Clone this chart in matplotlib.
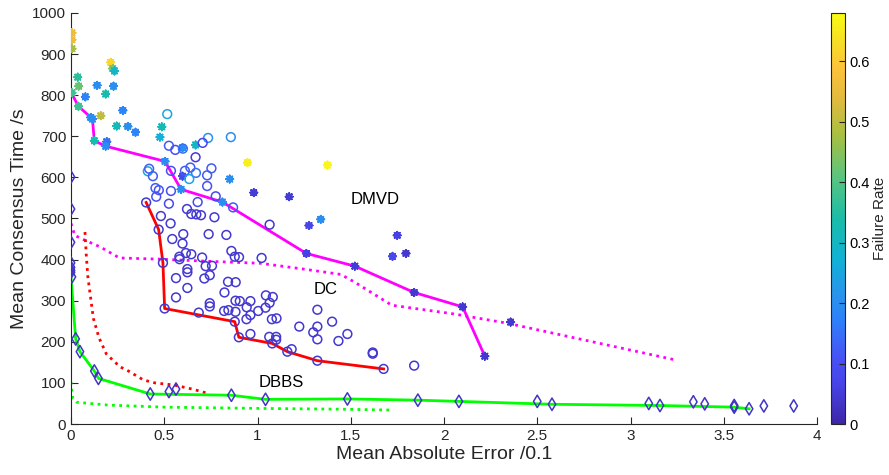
import numpy as np
import matplotlib
matplotlib.use("Agg")
import matplotlib.pyplot as plt
from matplotlib.colors import LinearSegmentedColormap, Normalize
from matplotlib.cm import ScalarMappable
from matplotlib.ticker import FormatStrFormatter

plt.rcParams['font.family'] = ['Liberation Sans', 'DejaVu Sans']

# ---- data ----
# DMVD (asterisks): x, y, failure rate
dmvd_x = [0.005, 0.005, 0.005, 0.213, 0.224, 0.233, 0.036, 0.041, 0.14, 0.228,
          0.005, 0.077, 0.186, 0.04, 0.278, 0.106, 0.115, 0.16, 0.245, 0.305,
          0.346, 0.487, 0.477, 0.125, 0.192, 0.186, 0.668, 0.598, 0.946, 1.375,
          0.504, 0.598, 0.851, 0.59, 0.98, 1.17, 0.812, 1.276, 1.339, 1.262,
          1.749, 1.724, 1.796, 1.522, 1.84, 2.1, 2.219, 2.357]
dmvd_y = [952, 935, 913, 880, 865, 859, 844, 822, 824, 822,
          806, 796, 803, 773, 763, 746, 742, 750, 725, 724,
          710, 723, 698, 689, 687, 676, 679, 672, 636, 630,
          639, 603, 596, 571, 563, 553, 540, 483, 498, 415,
          459, 408, 415, 384, 320, 285, 165, 248]
dmvd_f = [0.56, 0.56, 0.48, 0.62, 0.45, 0.3, 0.36, 0.42, 0.2, 0.2,
          0.38, 0.18, 0.33, 0.38, 0.18, 0.2, 0.2, 0.5, 0.32, 0.2,
          0.18, 0.32, 0.27, 0.33, 0.15, 0.2, 0.3, 0.2, 0.66, 0.67,
          0.2, 0.08, 0.2, 0.2, 0.05, 0.05, 0.2, 0.07, 0.2, 0.06,
          0.06, 0.08, 0.04, 0.05, 0.04, 0.04, 0.04, 0.04]

# DC (circles)
dc_x = [0.516, 0.735, 0.857, 0.525, 0.559, 0.6, 0.706, 0.668, 0.412, 0.419,
        0.439, 0.536, 0.611, 0.64, 0.67, 0.634, 0.753, 0.73, 0.453, 0.471,
        0.457, 0.536, 0.73, 0.525, 0.679, 0.776, 0.869, 0.482, 0.622, 0.645,
        0.672, 0.697, 0.769, 0.534, 1.065, 0.543, 0.602, 0.738, 0.833, 0.598,
        0.616, 0.645, 0.581, 0.703, 0.86, 0.878, 0.901, 1.022, 0.722, 0.756,
        0.624, 0.624, 0.563, 0.744, 0.715, 0.842, 0.883, 0.624, 0.823, 0.563,
        1.045, 1.082, 0.882, 0.905, 0.962, 1.065, 0.744, 0.744, 0.685, 0.942,
        0.821, 0.844, 0.882, 1.004, 1.043, 0.962, 0.941, 1.077, 1.102, 1.321,
        1.4, 1.224, 1.321, 1.299, 1.321, 1.434, 0.962, 1.063, 1.1, 1.1,
        1.183, 1.482, 1.618, 1.618, 1.84, 0.582,
        0.403, 0.47, 0.493, 0.502, 0.878, 0.9, 1.079, 1.16, 1.321, 1.676]
dc_y = [754, 696, 698, 677, 667, 670, 684, 649, 615, 621,
        603, 616, 616, 624, 611, 596, 622, 605, 574, 569,
        553, 567, 579, 536, 540, 554, 527, 506, 523, 511,
        510, 508, 503, 488, 485, 450, 462, 462, 460, 439,
        416, 413, 407, 405, 421, 407, 406, 404, 384, 385,
        377, 369, 355, 362, 354, 346, 345, 331, 320, 308,
        313, 309, 300, 299, 299, 295, 294, 286, 271, 284,
        275, 277, 273, 275, 283, 265, 255, 255, 257, 278,
        249, 237, 237, 223, 206, 202, 219, 212, 212, 205,
        182, 219, 174, 171, 142, 401,
        539, 473, 392, 281, 249, 211, 196, 176, 154, 134]
dc_f = [0.25, 0.2, 0.2, 0.12, 0.1, 0.15, 0.07, 0.05, 0.25, 0.12,
        0.12, 0.1, 0.12, 0.12, 0.15, 0.25, 0.12, 0.12, 0.12, 0.1,
        0.1, 0.1, 0.1, 0.08, 0.08, 0.08, 0.12] + [0.04] * 79

# DBBS (diamonds)
dbbs_x = [0.0, 0.0, 0.0, 0.0, 0.0, 0.0, 0.0, 0.005, 0.025, 0.048,
          0.125, 0.147, 0.425, 0.525, 0.563, 0.86, 1.043, 1.482, 1.86, 2.08,
          2.5, 2.579, 3.098, 3.158, 3.337, 3.398, 3.556, 3.556, 3.636, 3.715, 3.875]
dbbs_y = [601, 523, 442, 392, 381, 374, 369, 358, 207, 176,
          129, 111, 73, 79, 85, 70, 60, 61, 58, 55,
          55, 48, 50, 45, 54, 49, 45, 41, 37, 44, 44]
dbbs_f = [0.03] * 31

# Pareto fronts (solid) and reference curves (dotted)
dmvd_front_x = [0.005, 0.04, 0.106, 0.115, 0.125, 0.186, 0.504, 0.59, 0.812, 1.262, 1.522, 1.84, 2.1, 2.219]
dmvd_front_y = [803, 773, 746, 742, 689, 676, 639, 571, 540, 415, 384, 320, 285, 165]
dmvd_ref_x = [0.0, 0.02, 0.075, 0.156, 0.26, 0.48, 0.73, 1.016, 1.23, 1.446, 1.518, 1.72, 2.05, 2.342, 3.23]
dmvd_ref_y = [488, 459, 447, 431, 404, 401, 396, 391, 378, 364, 346, 289, 268, 245, 157]

dc_front_x = [0.403, 0.47, 0.493, 0.502, 0.878, 0.9, 1.079, 1.16, 1.321, 1.676]
dc_front_y = [539, 473, 392, 281, 249, 211, 196, 176, 154, 134]
dc_ref_x = [0.075, 0.082, 0.09, 0.102, 0.12, 0.15, 0.19, 0.263, 0.3, 0.389, 0.45, 0.55, 0.65, 0.73]
dc_ref_y = [467, 410, 360, 318, 257, 210, 170, 139, 131, 107, 100, 95, 85, 75]

dbbs_front_x = [0.0, 0.0, 0.025, 0.048, 0.125, 0.147, 0.425, 0.86, 1.043, 1.482, 1.86, 2.08, 2.579, 3.158, 3.556, 3.636]
dbbs_front_y = [369, 358, 207, 176, 129, 111, 73, 70, 60, 61, 58, 55, 48, 45, 41, 37]
dbbs_ref_x = [0.0, 0.003, 0.01, 0.03, 0.1, 0.2, 0.5, 1.0, 1.45, 1.71]
dbbs_ref_y = [103, 85, 62, 53, 50, 46, 41, 38, 36, 34]

# parula-like colormap
parula = LinearSegmentedColormap.from_list("parula", [
    (0.00, (0.2422, 0.1504, 0.6603)),
    (0.10, (0.2770, 0.2700, 0.9200)),
    (0.16, (0.2810, 0.3228, 0.9579)),
    (0.25, (0.1800, 0.5000, 0.9800)),
    (0.32, (0.1540, 0.5902, 0.9218)),
    (0.40, (0.0689, 0.6948, 0.8394)),
    (0.50, (0.1000, 0.7400, 0.6600)),
    (0.60, (0.3500, 0.7700, 0.5000)),
    (0.70, (0.6500, 0.7500, 0.2600)),
    (0.80, (0.9000, 0.7300, 0.2400)),
    (0.87, (0.9970, 0.7659, 0.2199)),
    (0.93, (0.9700, 0.8700, 0.1500)),
    (1.00, (0.9769, 0.9839, 0.0805)),
])
norm = Normalize(vmin=0, vmax=0.68)

fig = plt.figure(figsize=(8.89, 4.75), dpi=100)
ax = fig.add_axes([71/889, 51/475, 746/889, 411/475])
cax = fig.add_axes([831/889, 51/475, 14/889, 411/475])

dot = (0, (1, 1.6))
ax.plot(dmvd_front_x, dmvd_front_y, color='magenta', lw=2.0, zorder=2)
ax.plot(dmvd_ref_x, dmvd_ref_y, color='magenta', lw=2.0, ls=dot, zorder=2)
ax.plot(dc_front_x, dc_front_y, color='red', lw=2.0, zorder=2)
ax.plot(dc_ref_x, dc_ref_y, color='red', lw=2.0, ls=dot, zorder=2)
ax.plot(dbbs_front_x, dbbs_front_y, color=(0, 1, 0), lw=2.0, zorder=2)
ax.plot(dbbs_ref_x, dbbs_ref_y, color=(0, 1, 0), lw=2.0, ls=dot, zorder=2)

ax.scatter(dmvd_x, dmvd_y, s=26, marker=(8, 2, 0), c=dmvd_f, cmap=parula, norm=norm,
           linewidths=1.4, zorder=3)
ax.scatter(dc_x, dc_y, s=40, marker='o', facecolors='none',
           edgecolors=parula(norm(dc_f)), linewidths=1.1, zorder=3)
ax.scatter(dbbs_x, dbbs_y, s=40, marker='d', facecolors='none',
           edgecolors=parula(norm(dbbs_f)), linewidths=1.1, zorder=3)

ax.text(1.5, 547, "DMVD", fontsize=12, va='center', ha='left')
ax.text(1.303, 327, "DC", fontsize=12, va='center', ha='left')
ax.text(1.007, 101, "DBBS", fontsize=12, va='center', ha='left')

ax.set_xlim(0, 4)
ax.set_ylim(0, 1000)
ax.set_xticks(np.arange(0, 4.01, 0.5))
ax.set_yticks(np.arange(0, 1001, 100))
ax.xaxis.set_major_formatter(FormatStrFormatter('%g'))
ax.spines[['top', 'right']].set_visible(False)
for sp in ['left', 'bottom']:
    ax.spines[sp].set_color('#262626')
    ax.spines[sp].set_linewidth(0.8)
ax.tick_params(direction='in', length=5, width=0.8, color='#262626',
               labelsize=11, labelcolor='#262626')
ax.set_xlabel("Mean Absolute Error /0.1", fontsize=14, color='#262626', labelpad=2)
ax.set_ylabel("Mean Consensus Time /s", fontsize=14, color='#262626', labelpad=3)

sm = ScalarMappable(norm=norm, cmap=parula)
cb = fig.colorbar(sm, cax=cax)
cb.set_ticks([0, 0.1, 0.2, 0.3, 0.4, 0.5, 0.6])
cb.ax.yaxis.set_major_formatter(FormatStrFormatter('%g'))
cb.ax.tick_params(direction='in', length=4, width=0.8, labelsize=10.5, color='#262626')
cb.outline.set_linewidth(0.8)
cb.outline.set_edgecolor('#262626')
cb.set_label("Failure Rate", fontsize=11, color='#262626', labelpad=2)

fig.savefig("out.png", dpi=100)
